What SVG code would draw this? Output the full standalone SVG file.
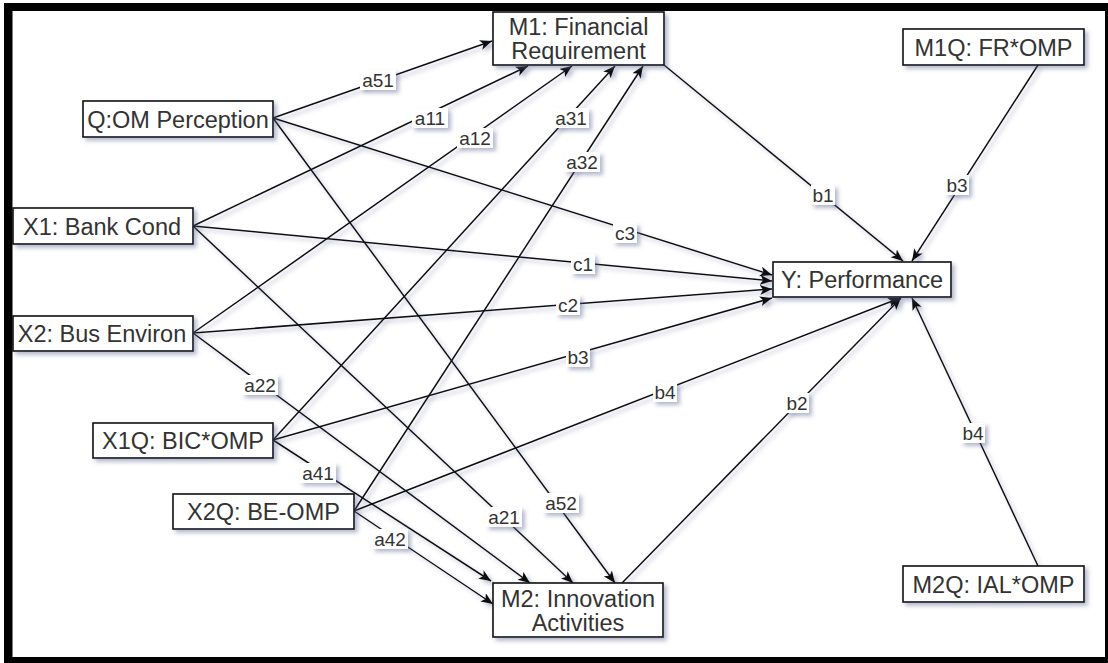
<svg xmlns="http://www.w3.org/2000/svg" width="1108" height="663" viewBox="0 0 1108 663">
  <defs>
    <style>
      .node rect { fill: #ffffff; stroke: #111111; stroke-width: 1.6; filter: url(#shadow); }
      .node text { font-family: "Liberation Sans", Arial, sans-serif; font-size: 23.5px; fill: #333333; text-anchor: middle; }
      .edges line { stroke: #111111; stroke-width: 1.5; fill: none; marker-end: url(#arrow); }
      .lbl rect { fill: #ffffff; filter: url(#shadow); }
      .lbl text { font-family: "Liberation Sans", Arial, sans-serif; font-size: 19px; fill: #333333; text-anchor: middle; }
    </style>
    <filter id="shadow" filterUnits="userSpaceOnUse" x="0" y="0" width="1108" height="663">
      <feDropShadow dx="3" dy="3" stdDeviation="2" flood-color="#5a6090" flood-opacity="0.45"/>
    </filter>
    <marker id="arrow" markerUnits="userSpaceOnUse" markerWidth="13" markerHeight="11" refX="12" refY="5" orient="auto">
      <path d="M0,0 L12,5 L0,10 L3,5 Z" fill="#111111"/>
    </marker>
  </defs>

  <!-- page frame -->
  <rect x="0" y="0" width="1108" height="663" fill="#ffffff"/>
  <rect x="4" y="3" width="1104" height="660" fill="#000000"/>
  <rect x="12.5" y="11" width="1092.5" height="646" fill="#ffffff"/>

  <!-- connectors -->
  <g id="connectors">
    <g class="edges" filter="url(#shadow)">
      <line x1="273" y1="118" x2="492" y2="41"/>
      <line x1="193" y1="226" x2="528" y2="66"/>
      <line x1="193" y1="333" x2="572" y2="66"/>
      <line x1="273" y1="440" x2="615" y2="66"/>
      <line x1="354" y1="511" x2="643" y2="66"/>
      <line x1="273" y1="118" x2="772" y2="275"/>
      <line x1="193" y1="226" x2="772" y2="281"/>
      <line x1="193" y1="333" x2="772" y2="289"/>
      <line x1="273" y1="440" x2="772" y2="298"/>
      <line x1="354" y1="511" x2="900" y2="298"/>
      <line x1="664" y1="65" x2="903" y2="261"/>
      <line x1="1038" y1="65" x2="912" y2="261"/>
      <line x1="622" y1="583" x2="901" y2="298"/>
      <line x1="1038" y1="566" x2="912" y2="298"/>
      <line x1="273" y1="118" x2="615" y2="583"/>
      <line x1="193" y1="226" x2="573" y2="583"/>
      <line x1="193" y1="333" x2="530" y2="583"/>
      <line x1="273" y1="440" x2="491" y2="581"/>
      <line x1="354" y1="511" x2="493" y2="604"/>
    </g>
    <!-- edge labels -->
    <g class="lbl">
      <rect x="360" y="70" width="36" height="20"/><text x="378" y="87">a51</text>
      <rect x="412" y="108" width="36" height="20"/><text x="430" y="125">a11</text>
      <rect x="457" y="128" width="36" height="20"/><text x="475" y="145">a12</text>
      <rect x="553" y="108" width="36" height="20"/><text x="571" y="125">a31</text>
      <rect x="564" y="152" width="36" height="20"/><text x="582" y="169">a32</text>
      <rect x="613" y="223" width="24" height="20"/><text x="625" y="240">c3</text>
      <rect x="571" y="254" width="24" height="20"/><text x="583" y="271">c1</text>
      <rect x="556" y="295" width="24" height="20"/><text x="568" y="312">c2</text>
      <rect x="566" y="347" width="24" height="20"/><text x="578" y="364">b3</text>
      <rect x="653" y="382" width="24" height="20"/><text x="665" y="399">b4</text>
      <rect x="811" y="185" width="24" height="20"/><text x="823" y="202">b1</text>
      <rect x="945" y="175" width="24" height="20"/><text x="957" y="192">b3</text>
      <rect x="785" y="393" width="24" height="20"/><text x="797" y="410">b2</text>
      <rect x="961" y="423" width="24" height="20"/><text x="973" y="440">b4</text>
      <rect x="543" y="493" width="36" height="20"/><text x="561" y="510">a52</text>
      <rect x="486" y="507" width="36" height="20"/><text x="504" y="524">a21</text>
      <rect x="242" y="375" width="36" height="20"/><text x="260" y="392">a22</text>
      <rect x="300" y="463" width="36" height="20"/><text x="318" y="480">a41</text>
      <rect x="372" y="529" width="36" height="20"/><text x="390" y="546">a42</text>
    </g>
  </g>

  <!-- nodes -->
  <g id="node-q" class="node">
    <rect x="83" y="101" width="190" height="36"/>
    <text x="178" y="127.5">Q:OM Perception</text>
  </g>
  <g id="node-x1" class="node">
    <rect x="13" y="208" width="180" height="36"/>
    <text x="102" y="234.5">X1: Bank Cond</text>
  </g>
  <g id="node-x2" class="node">
    <rect x="13" y="316" width="180" height="35"/>
    <text x="102" y="342">X2: Bus Environ</text>
  </g>
  <g id="node-x1q" class="node">
    <rect x="93" y="423" width="180" height="35"/>
    <text x="183" y="449">X1Q: BIC*OMP</text>
  </g>
  <g id="node-x2q" class="node">
    <rect x="173" y="494" width="181" height="35"/>
    <text x="263.5" y="520">X2Q: BE-OMP</text>
  </g>
  <g id="node-m1" class="node">
    <rect x="493" y="12" width="171" height="53"/>
    <text x="578.5" y="35">M1: Financial</text>
    <text x="578.5" y="59">Requirement</text>
  </g>
  <g id="node-m2" class="node">
    <rect x="493" y="583" width="170" height="54"/>
    <text x="578" y="607">M2: Innovation</text>
    <text x="578" y="631">Activities</text>
  </g>
  <g id="node-y" class="node">
    <rect x="773" y="262" width="178" height="35"/>
    <text x="862" y="288">Y: Performance</text>
  </g>
  <g id="node-m1q" class="node">
    <rect x="903" y="29" width="181" height="36"/>
    <text x="993.5" y="55.5">M1Q: FR*OMP</text>
  </g>
  <g id="node-m2q" class="node">
    <rect x="903" y="566" width="181" height="36"/>
    <text x="993.5" y="592.5">M2Q: IAL*OMP</text>
  </g>
</svg>
